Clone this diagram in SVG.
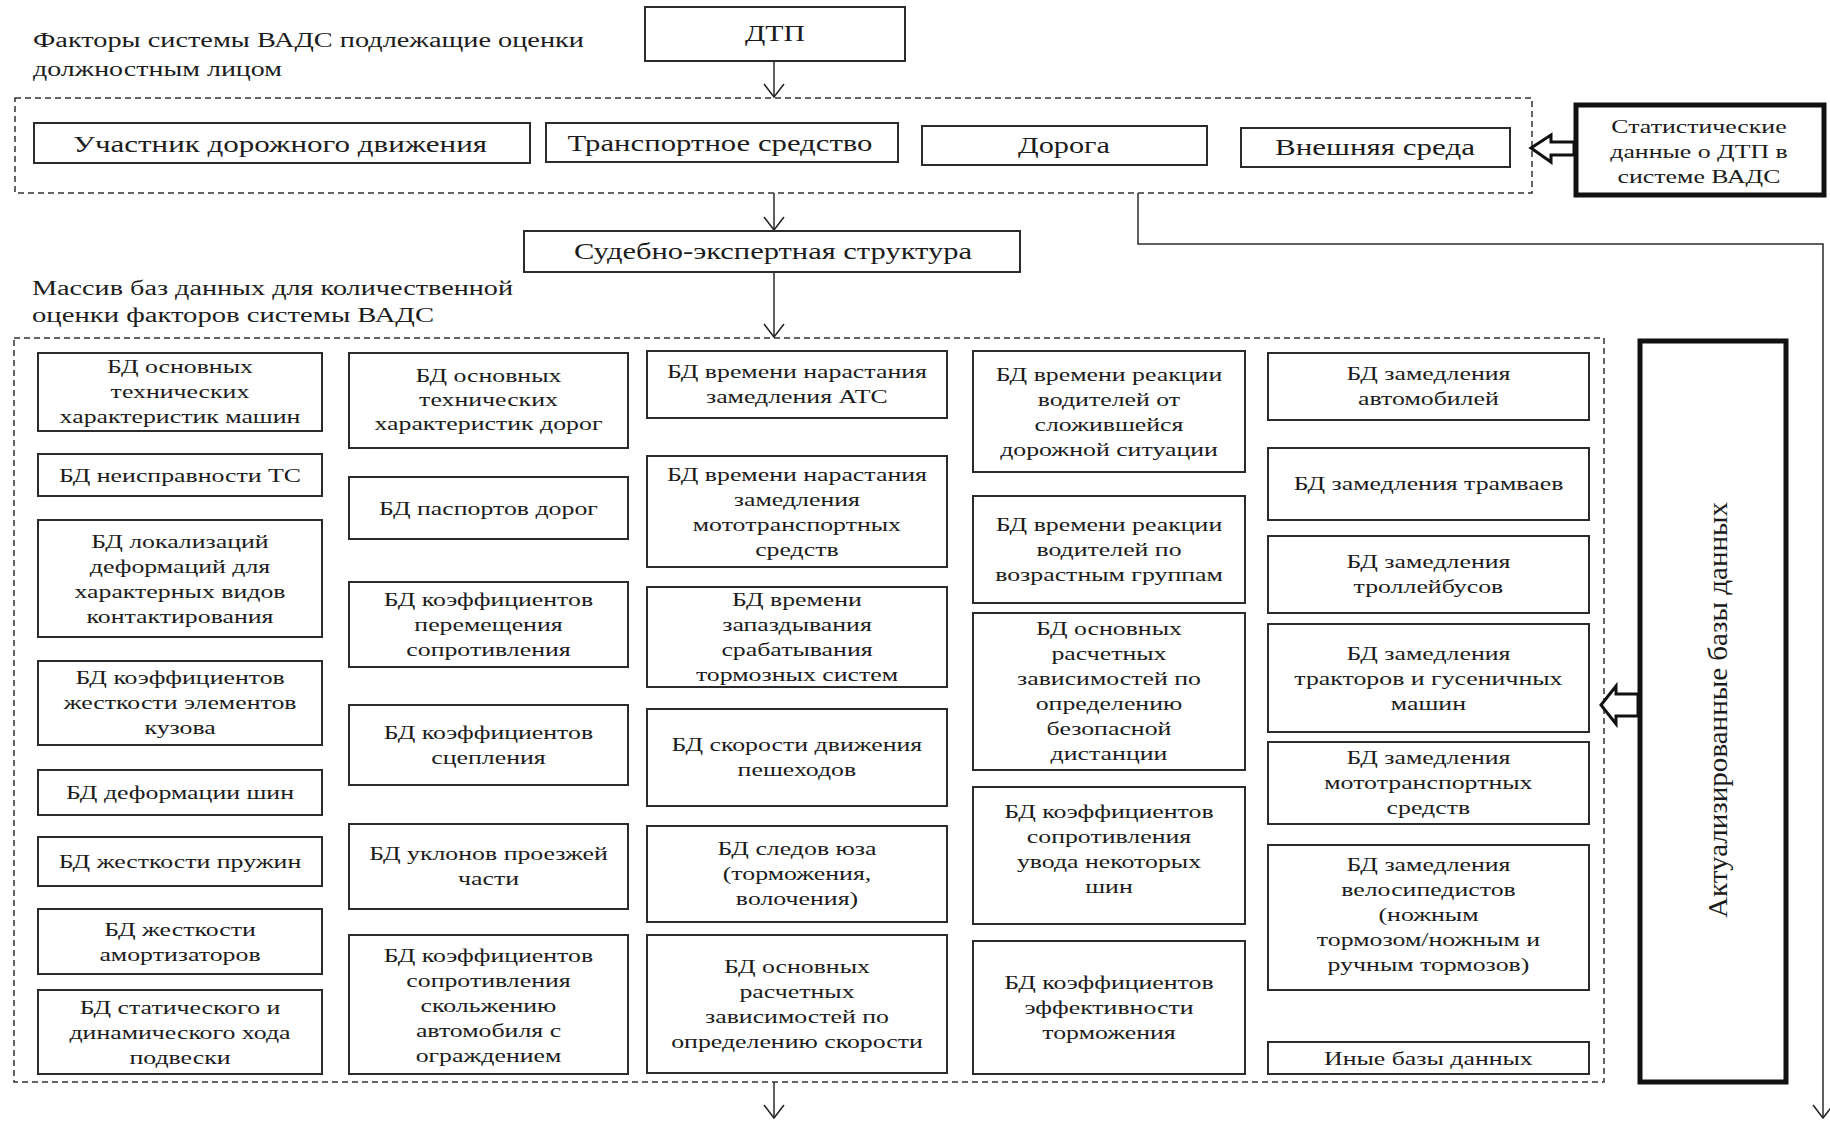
<svg xmlns="http://www.w3.org/2000/svg" width="1830" height="1121" viewBox="0 0 1830 1121">
  <defs>
    <style>
      .bg { fill: #ffffff; }
      .box { fill: #ffffff; stroke: #2b2b2b; stroke-width: 2; }
      .thick { fill: #ffffff; stroke: #111111; stroke-width: 5; }
      .dash { fill: none; stroke: #333333; stroke-width: 1.5; stroke-dasharray: 6 4; }
      .line { fill: none; stroke: #2b2b2b; stroke-width: 1.5; }
      .hollow { fill: #ffffff; stroke: #111111; stroke-width: 3; stroke-linejoin: miter; }
      text { font-family: "Liberation Serif", "Times New Roman", serif; fill: #1c1c1c; }
      .ttl { font-size: 20px; }
      .lbl { font-size: 24px; text-anchor: middle; }
      .db { font-size: 19px; text-anchor: middle; transform: scaleX(1.36); transform-box: fill-box; transform-origin: center; }
      .vert { font-size: 28px; text-anchor: middle; }
    </style>
    <marker id="vh" markerUnits="userSpaceOnUse" markerWidth="30" markerHeight="30" viewBox="-15 -15 30 30" refX="0" refY="0" orient="auto" overflow="visible">
      <path d="M-13,-10 L0,0 L-13,10" fill="none" stroke="#222222" stroke-width="1.5"/>
    </marker>
  </defs>

  <rect class="bg" x="0" y="0" width="1830" height="1121"/>

  <!-- section captions -->
  <g id="captions">
    <text class="ttl" x="33" y="47" textLength="551" lengthAdjust="spacingAndGlyphs">Факторы системы ВАДС подлежащие оценки</text>
    <text class="ttl" x="33" y="76" textLength="249" lengthAdjust="spacingAndGlyphs">должностным лицом</text>
    <text class="ttl" x="32" y="295" textLength="481" lengthAdjust="spacingAndGlyphs">Массив баз данных для количественной</text>
    <text class="ttl" x="32" y="322" textLength="402" lengthAdjust="spacingAndGlyphs">оценки факторов системы ВАДС</text>
  </g>

  <!-- dashed group frames -->
  <g id="frames">
    <rect class="dash" x="15" y="98" width="1517" height="95"/>
    <rect class="dash" x="14" y="338" width="1590" height="744"/>
  </g>

  <!-- connectors -->
  <g id="connectors">
    <path class="line" d="M774,61 V97" marker-end="url(#vh)"/>
    <path class="line" d="M774,193 V230" marker-end="url(#vh)"/>
    <path class="line" d="M774,272 V337" marker-end="url(#vh)"/>
    <path class="line" d="M774,1082 V1118" marker-end="url(#vh)"/>
    <path class="line" d="M1138,193 V244 H1823 V1118" marker-end="url(#vh)"/>
    <polygon class="hollow" points="1531,148 1551,135 1551,142 1574,142 1574,155 1551,155 1551,162"/>
    <polygon class="hollow" points="1601,705 1616,686 1616,694 1638,694 1638,716 1616,716 1616,724"/>
  </g>

  <!-- top level nodes -->
  <g id="dtp">
    <rect class="box" x="645" y="7" width="260" height="54"/>
    <text class="lbl" x="775" y="41" font-size="22" textLength="60" lengthAdjust="spacingAndGlyphs">ДТП</text>
  </g>
  <g id="participant">
    <rect class="box" x="34" y="123" width="496" height="40"/>
    <text class="lbl" x="280" y="152" textLength="414" lengthAdjust="spacingAndGlyphs">Участник дорожного движения</text>
  </g>
  <g id="vehicle">
    <rect class="box" x="546" y="123" width="352" height="39"/>
    <text class="lbl" x="720" y="151" textLength="305" lengthAdjust="spacingAndGlyphs">Транспортное средство</text>
  </g>
  <g id="road">
    <rect class="box" x="922" y="126" width="285" height="39"/>
    <text class="lbl" x="1064" y="153" textLength="92" lengthAdjust="spacingAndGlyphs">Дорога</text>
  </g>
  <g id="environment">
    <rect class="box" x="1241" y="128" width="269" height="39"/>
    <text class="lbl" x="1375" y="155" textLength="200" lengthAdjust="spacingAndGlyphs">Внешняя среда</text>
  </g>
  <g id="statistics">
    <rect class="thick" x="1576" y="105" width="248" height="90"/>
    <text class="db" x="1699"><tspan x="1699" y="133">Статистические</tspan><tspan x="1699" y="158">данные о ДТП в</tspan><tspan x="1699" y="183">системе ВАДС</tspan></text>
  </g>
  <g id="expert">
    <rect class="box" x="524" y="231" width="496" height="41"/>
    <text class="lbl" x="773" y="259" textLength="398" lengthAdjust="spacingAndGlyphs">Судебно-экспертная структура</text>
  </g>
  <g id="updated-db">
    <rect class="thick" x="1640" y="341" width="146" height="741"/>
    <text class="vert" transform="translate(1727 710) rotate(-90)" x="0" y="0" textLength="416" lengthAdjust="spacingAndGlyphs">Актуализированные базы данных</text>
  </g>

  <!-- column 1: vehicle databases -->
  <g id="db-vehicle-specs">
    <rect class="box" x="38" y="353" width="284" height="78"/>
    <text class="db"><tspan x="180" y="373">БД основных</tspan><tspan x="180" y="398">технических</tspan><tspan x="180" y="423">характеристик машин</tspan></text>
  </g>
  <g id="db-faults">
    <rect class="box" x="38" y="454" width="284" height="42"/>
    <text class="db"><tspan x="180" y="482">БД неисправности ТС</tspan></text>
  </g>
  <g id="db-deformation-zones">
    <rect class="box" x="38" y="520" width="284" height="117"/>
    <text class="db"><tspan x="180" y="548">БД локализаций</tspan><tspan x="180" y="573">деформаций для</tspan><tspan x="180" y="598">характерных видов</tspan><tspan x="180" y="623">контактирования</tspan></text>
  </g>
  <g id="db-body-stiffness">
    <rect class="box" x="38" y="661" width="284" height="84"/>
    <text class="db"><tspan x="180" y="684">БД коэффициентов</tspan><tspan x="180" y="709">жесткости элементов</tspan><tspan x="180" y="734">кузова</tspan></text>
  </g>
  <g id="db-tyre-deformation">
    <rect class="box" x="38" y="770" width="284" height="45"/>
    <text class="db"><tspan x="180" y="799">БД деформации шин</tspan></text>
  </g>
  <g id="db-springs">
    <rect class="box" x="38" y="837" width="284" height="49"/>
    <text class="db"><tspan x="180" y="868">БД жесткости пружин</tspan></text>
  </g>
  <g id="db-dampers">
    <rect class="box" x="38" y="909" width="284" height="65"/>
    <text class="db"><tspan x="180" y="936">БД жесткости</tspan><tspan x="180" y="961">амортизаторов</tspan></text>
  </g>
  <g id="db-suspension">
    <rect class="box" x="38" y="990" width="284" height="84"/>
    <text class="db"><tspan x="180" y="1014">БД статического и</tspan><tspan x="180" y="1039">динамического хода</tspan><tspan x="180" y="1064">подвески</tspan></text>
  </g>

  <!-- column 2: road databases -->
  <g id="db-road-specs">
    <rect class="box" x="349" y="353" width="279" height="95"/>
    <text class="db"><tspan x="488.5" y="382">БД основных</tspan><tspan x="488.5" y="406">технических</tspan><tspan x="488.5" y="430">характеристик дорог</tspan></text>
  </g>
  <g id="db-road-passports">
    <rect class="box" x="349" y="477" width="279" height="62"/>
    <text class="db"><tspan x="488.5" y="515">БД паспортов дорог</tspan></text>
  </g>
  <g id="db-displacement">
    <rect class="box" x="349" y="582" width="279" height="85"/>
    <text class="db"><tspan x="488.5" y="606">БД коэффициентов</tspan><tspan x="488.5" y="631">перемещения</tspan><tspan x="488.5" y="656">сопротивления</tspan></text>
  </g>
  <g id="db-adhesion">
    <rect class="box" x="349" y="705" width="279" height="80"/>
    <text class="db"><tspan x="488.5" y="739">БД коэффициентов</tspan><tspan x="488.5" y="764">сцепления</tspan></text>
  </g>
  <g id="db-slopes">
    <rect class="box" x="349" y="824" width="279" height="85"/>
    <text class="db"><tspan x="488.5" y="860">БД уклонов проезжей</tspan><tspan x="488.5" y="885">части</tspan></text>
  </g>
  <g id="db-barrier-sliding">
    <rect class="box" x="349" y="935" width="279" height="139"/>
    <text class="db"><tspan x="488.5" y="962">БД коэффициентов</tspan><tspan x="488.5" y="987">сопротивления</tspan><tspan x="488.5" y="1012">скольжению</tspan><tspan x="488.5" y="1037">автомобиля с</tspan><tspan x="488.5" y="1062">ограждением</tspan></text>
  </g>

  <!-- column 3: braking and motion databases -->
  <g id="db-rise-time-cars">
    <rect class="box" x="647" y="351" width="300" height="67"/>
    <text class="db"><tspan x="797" y="378">БД времени нарастания</tspan><tspan x="797" y="403">замедления АТС</tspan></text>
  </g>
  <g id="db-rise-time-moto">
    <rect class="box" x="647" y="456" width="300" height="111"/>
    <text class="db"><tspan x="797" y="481">БД времени нарастания</tspan><tspan x="797" y="506">замедления</tspan><tspan x="797" y="531">мототранспортных</tspan><tspan x="797" y="556">средств</tspan></text>
  </g>
  <g id="db-brake-delay">
    <rect class="box" x="647" y="587" width="300" height="100"/>
    <text class="db"><tspan x="797" y="606">БД времени</tspan><tspan x="797" y="631">запаздывания</tspan><tspan x="797" y="656">срабатывания</tspan><tspan x="797" y="681">тормозных систем</tspan></text>
  </g>
  <g id="db-pedestrian-speed">
    <rect class="box" x="647" y="709" width="300" height="97"/>
    <text class="db"><tspan x="797" y="751">БД скорости движения</tspan><tspan x="797" y="776">пешеходов</tspan></text>
  </g>
  <g id="db-skid-marks">
    <rect class="box" x="647" y="826" width="300" height="96"/>
    <text class="db"><tspan x="797" y="855">БД следов юза</tspan><tspan x="797" y="880">(торможения,</tspan><tspan x="797" y="905">волочения)</tspan></text>
  </g>
  <g id="db-speed-formulas">
    <rect class="box" x="647" y="935" width="300" height="138"/>
    <text class="db"><tspan x="797" y="973">БД основных</tspan><tspan x="797" y="998">расчетных</tspan><tspan x="797" y="1023">зависимостей по</tspan><tspan x="797" y="1048">определению скорости</tspan></text>
  </g>

  <!-- column 4: driver and tyre databases -->
  <g id="db-reaction-situation">
    <rect class="box" x="973" y="351" width="272" height="121"/>
    <text class="db"><tspan x="1109" y="381">БД времени реакции</tspan><tspan x="1109" y="406">водителей от</tspan><tspan x="1109" y="431">сложившейся</tspan><tspan x="1109" y="456">дорожной ситуации</tspan></text>
  </g>
  <g id="db-reaction-age">
    <rect class="box" x="973" y="496" width="272" height="107"/>
    <text class="db"><tspan x="1109" y="531">БД времени реакции</tspan><tspan x="1109" y="556">водителей по</tspan><tspan x="1109" y="581">возрастным группам</tspan></text>
  </g>
  <g id="db-safe-distance">
    <rect class="box" x="973" y="613" width="272" height="157"/>
    <text class="db"><tspan x="1109" y="635">БД основных</tspan><tspan x="1109" y="660">расчетных</tspan><tspan x="1109" y="685">зависимостей по</tspan><tspan x="1109" y="710">определению</tspan><tspan x="1109" y="735">безопасной</tspan><tspan x="1109" y="760">дистанции</tspan></text>
  </g>
  <g id="db-cornering">
    <rect class="box" x="973" y="787" width="272" height="137"/>
    <text class="db"><tspan x="1109" y="818">БД коэффициентов</tspan><tspan x="1109" y="843">сопротивления</tspan><tspan x="1109" y="868">увода некоторых</tspan><tspan x="1109" y="893">шин</tspan></text>
  </g>
  <g id="db-braking-efficiency">
    <rect class="box" x="973" y="941" width="272" height="133"/>
    <text class="db"><tspan x="1109" y="989">БД коэффициентов</tspan><tspan x="1109" y="1014">эффективности</tspan><tspan x="1109" y="1039">торможения</tspan></text>
  </g>

  <!-- column 5: deceleration databases -->
  <g id="db-decel-cars">
    <rect class="box" x="1268" y="353" width="321" height="67"/>
    <text class="db"><tspan x="1428.5" y="380">БД замедления</tspan><tspan x="1428.5" y="405">автомобилей</tspan></text>
  </g>
  <g id="db-decel-trams">
    <rect class="box" x="1268" y="448" width="321" height="72"/>
    <text class="db"><tspan x="1428.5" y="490">БД замедления трамваев</tspan></text>
  </g>
  <g id="db-decel-trolleybuses">
    <rect class="box" x="1268" y="536" width="321" height="77"/>
    <text class="db"><tspan x="1428.5" y="568">БД замедления</tspan><tspan x="1428.5" y="593">троллейбусов</tspan></text>
  </g>
  <g id="db-decel-tractors">
    <rect class="box" x="1268" y="624" width="321" height="108"/>
    <text class="db"><tspan x="1428.5" y="660">БД замедления</tspan><tspan x="1428.5" y="685">тракторов и гусеничных</tspan><tspan x="1428.5" y="710">машин</tspan></text>
  </g>
  <g id="db-decel-moto">
    <rect class="box" x="1268" y="742" width="321" height="82"/>
    <text class="db"><tspan x="1428.5" y="764">БД замедления</tspan><tspan x="1428.5" y="789">мототранспортных</tspan><tspan x="1428.5" y="814">средств</tspan></text>
  </g>
  <g id="db-decel-bicycles">
    <rect class="box" x="1268" y="845" width="321" height="145"/>
    <text class="db"><tspan x="1428.5" y="871">БД замедления</tspan><tspan x="1428.5" y="896">велосипедистов</tspan><tspan x="1428.5" y="921">(ножным</tspan><tspan x="1428.5" y="946">тормозом/ножным и</tspan><tspan x="1428.5" y="971">ручным тормозов)</tspan></text>
  </g>
  <g id="db-other">
    <rect class="box" x="1268" y="1042" width="321" height="32"/>
    <text class="db"><tspan x="1428.5" y="1065">Иные базы данных</tspan></text>
  </g>
</svg>
